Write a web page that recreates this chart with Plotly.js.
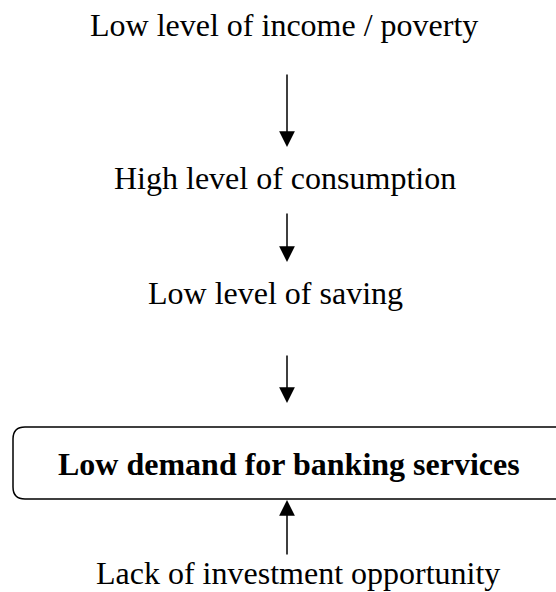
<!DOCTYPE html>
<html>
<head>
<meta charset="utf-8">
<script src="https://cdn.plot.ly/plotly-3.0.1.min.js"></script>
<style>
  html, body { margin: 0; padding: 0; background: #fff; }
  #chart { width: 556px; height: 592px; }
</style>
</head>
<body>
<div id="chart"></div>
<script>
// ---- content ----
const nodeLabels = [
  "Low level of income / poverty",
  "High level of consumption",
  "Low level of saving",
  "Low demand for banking services",
  "Lack of investment opportunity"
];
const nodeBold = [false, false, false, true, false];
// links: [from, to]
const links = [[0, 1], [1, 2], [2, 3], [4, 3]];

// ---- layout (pixel-like coordinates, y grows downward) ----
const nodeX = [284, 285, 275, 289, 298];
const nodeY = [25, 178, 293, 464, 592];
const nodeAnchor = ['middle', 'middle', 'middle', 'middle', 'bottom'];
const arrowX = 287;
const arrowTail = [73, 212, 354, 556];
const arrowTip = [147, 262, 403, 500];
const box = {x0: 13, x1: 600, y0: 427, y1: 499, r: 12};

const W = 556, H = 592;
const annotations = [];
nodeLabels.forEach((t, i) => {
  annotations.push({
    x: nodeX[i], y: nodeY[i], xref: 'x', yref: 'y',
    text: nodeBold[i] ? '<b>' + t + '</b>' : t,
    showarrow: false, xanchor: 'center', yanchor: nodeAnchor[i], borderpad: 0,
    font: {family: 'Liberation Serif, Times New Roman, serif', size: 32, color: '#000'}
  });
});
links.forEach((l, k) => {
  annotations.push({
    x: arrowX, y: arrowTip[k], xref: 'x', yref: 'y',
    ax: arrowX, ay: arrowTail[k], axref: 'x', ayref: 'y',
    text: '', showarrow: true, arrowhead: 2, arrowsize: 2.1, arrowwidth: 1.5,
    arrowcolor: '#000', standoff: 0
  });
});

const b = box;
const boxPath =
  `M ${b.x0 + b.r},${b.y0} L ${b.x1 - b.r},${b.y0} Q ${b.x1},${b.y0} ${b.x1},${b.y0 + b.r} ` +
  `L ${b.x1},${b.y1 - b.r} Q ${b.x1},${b.y1} ${b.x1 - b.r},${b.y1} ` +
  `L ${b.x0 + b.r},${b.y1} Q ${b.x0},${b.y1} ${b.x0},${b.y1 - b.r} ` +
  `L ${b.x0},${b.y0 + b.r} Q ${b.x0},${b.y0} ${b.x0 + b.r},${b.y0} Z`;

const layout = {
  width: W, height: H,
  margin: {l: 0, r: 0, t: 0, b: 0, pad: 0},
  paper_bgcolor: '#fff', plot_bgcolor: '#fff',
  showlegend: false,
  xaxis: {range: [0, W], visible: false, fixedrange: true},
  yaxis: {range: [H, 0], visible: false, fixedrange: true},
  shapes: [{type: 'path', path: boxPath, xref: 'x', yref: 'y',
            line: {color: '#000', width: 1.5}, fillcolor: 'rgba(0,0,0,0)'}],
  annotations: annotations
};

Plotly.newPlot('chart', [{x: [], y: [], type: 'scatter', hoverinfo: 'skip'}], layout,
  {displayModeBar: false, staticPlot: true});
</script>
</body>
</html>
